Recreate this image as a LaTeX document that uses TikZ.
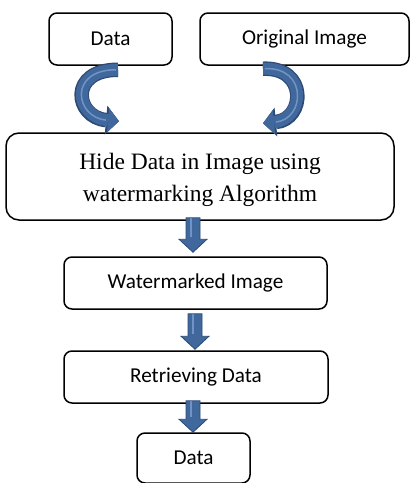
\documentclass[tikz,border=0pt]{standalone}
\usepackage{fontspec}
\setmainfont{Liberation Serif}
\newfontfamily\calib{Carlito}
\usetikzlibrary{arrows.meta,calc,positioning}
\definecolor{arrowblue}{RGB}{65,104,156}
\definecolor{arrowdark}{RGB}{44,74,116}
\definecolor{arrowlight}{RGB}{112,148,198}

\begin{document}
\begin{tikzpicture}[x=1pt,y=-1pt]
%sizes are in pixels of the reference, y runs downwards
\tikzstyle{box}=[draw, line width=1.5pt, rounded corners=8pt, minimum height=52pt, inner sep=0pt, font=\calib\fontsize{21.2}{24}\selectfont]
\tikzstyle{bigbox}=[box, rounded corners=13pt, minimum width=388pt, minimum height=87pt, align=center, font=\fontsize{23.5}{32}\selectfont]
\tikzstyle{downarrow}=[fill=arrowblue, draw=arrowdark, line width=0.8pt,
  to path={let \p1=(\tikztostart), \p2=(\tikztotarget) in
    (\x1-7pt,\y1) -- (\x1+7pt,\y1) -- (\x1+7pt,\y2+13pt) -- (\x1+14pt,\y2+13pt)
    -- (\x1,\y2) -- (\x1-14pt,\y2+13pt) -- (\x1-7pt,\y2+13pt) -- cycle},
  path picture={\draw[arrowlight, line width=2pt] ([xshift=-2pt]path picture bounding box.north) -- ([xshift=-2pt,yshift=15pt]path picture bounding box.south);}]
\tikzstyle{curvearrow}=[draw=arrowblue, line width=12pt, -{Triangle[width=24pt,length=11pt,line width=0pt]},
  preaction={draw=arrowdark, line width=14.5pt, -{Triangle[width=29pt,length=13pt,line width=0pt]}},
  postaction={draw=arrowlight, line width=1.5pt, -, shorten >=13pt, shorten <=2pt}]
\useasboundingbox (0,0) rectangle (413,483);
\node[box, minimum width=123pt](data) at (110.5,39) {Data};
\node[box, minimum width=209pt](orig) at (304.5,39) {Original Image};
\node[bigbox](hide) at (200,176.5) {\rule{0pt}{23pt}Hide Data in Image using\\watermarking Algorithm};
\node[box, minimum width=263pt](wmark) at (195.5,283) {Watermarked Image};
\node[box, minimum width=264pt](retr) at (196,377) {Retrieving Data};
\node[box, minimum width=113pt, minimum height=50pt](out) at (193.5,458) {Data};
\draw[curvearrow] ([xshift=7.5pt,yshift=-4pt]data.south) .. controls +(-50,0) and +(-44,-4) .. ([xshift=-81pt,yshift=11pt]hide.north);
\draw[curvearrow] ([xshift=-41.5pt,yshift=-3pt]orig.south) .. controls +(45,-2) and +(42,-4) .. ([xshift=63pt,yshift=9pt]hide.north);
\path[downarrow] ([xshift=-7pt,yshift=3pt]hide.south) to ([yshift=4pt]wmark.north);
\path[downarrow] ([xshift=-0.5pt,yshift=-4pt]wmark.south) to ([yshift=1pt]retr.north);
\path[downarrow] ([xshift=-3pt,yshift=3pt]retr.south) to (out.north);
\end{tikzpicture}
\end{document}
